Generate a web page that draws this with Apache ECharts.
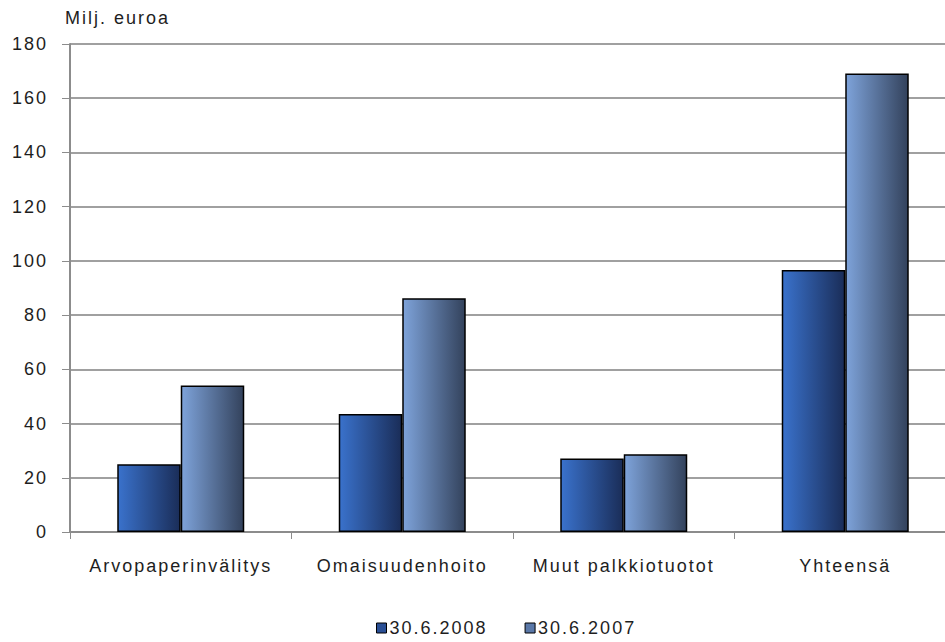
<!DOCTYPE html>
<html>
<head>
<meta charset="utf-8">
<script src="https://cdn.jsdelivr.net/npm/echarts@6/dist/echarts.min.js"></script>
<style>
  html, body { margin: 0; padding: 0; background: #fff; overflow: hidden; }
  /* plot runs a few pixels past the right edge of the window */
  #chart { width: 956px; height: 642px; }
  #chart text { letter-spacing: 2px; }
</style>
</head>
<body>
<div id="chart"></div>
<script>
// Palkkiotuotot (milj. euroa)
const categories = ['Arvopaperinvälitys', 'Omaisuudenhoito', 'Muut palkkiotuotot', 'Yhteensä'];
const seriesNames = ['30.6.2008', '30.6.2007'];
const values2008 = [25, 43.5, 27.1, 96.6];
const values2007 = [54, 86.2, 28.7, 169.1];
const yTicks = { min: 0, max: 180, interval: 20 };

const font = 'Arial, "Liberation Sans", sans-serif';
const textColor = '#1e1e1e';

function grad(from, to) {
  return new echarts.graphic.LinearGradient(0, 0, 1, 0, [
    { offset: 0, color: from },
    { offset: 1, color: to }
  ]);
}

const chart = echarts.init(document.getElementById('chart'), null, { renderer: 'svg' });
chart.setOption({
  animation: false,
  backgroundColor: '#fff',
  grid: { left: 70, right: 0, top: 44, bottom: 110 },
  graphic: [{
    type: 'text', left: 65, top: 9,
    style: { text: 'Milj. euroa', font: '18px ' + font, fill: textColor }
  }],
  legend: {
    top: 614, left: 371, itemGap: 55,
    itemWidth: 10, itemHeight: 10, icon: 'rect',
    textStyle: { fontFamily: font, fontSize: 18, color: textColor, padding: [0, 0, 0, -2] },
    data: [
      { name: seriesNames[0], itemStyle: { color: '#2a4f95', borderColor: '#000', borderWidth: 1 } },
      { name: seriesNames[1], itemStyle: { color: '#5a78a8', borderColor: '#000', borderWidth: 1 } }
    ]
  },
  xAxis: {
    type: 'category',
    data: categories,
    axisLine: { lineStyle: { color: '#8c8c8c', width: 2 } },
    axisTick: { show: true, length: 7, lineStyle: { color: '#8c8c8c', width: 1 } },
    axisLabel: { fontFamily: font, fontSize: 18, color: textColor, margin: 25 }
  },
  yAxis: {
    type: 'value',
    min: yTicks.min, max: yTicks.max, interval: yTicks.interval,
    axisLine: { show: true, lineStyle: { color: '#8c8c8c', width: 2 } },
    axisTick: { show: true, length: 8, lineStyle: { color: '#8c8c8c', width: 1 } },
    splitLine: { lineStyle: { color: '#a0a0a0', width: 2 } },
    axisLabel: { fontFamily: font, fontSize: 18, color: textColor, margin: 22 }
  },
  series: [
    {
      name: seriesNames[0], type: 'bar', data: values2008,
      barWidth: 63.5, barGap: '0%',
      itemStyle: { color: grad('#3a72cc', '#1a2d58'), borderColor: '#000', borderWidth: 1.5 }
    },
    {
      name: seriesNames[1], type: 'bar', data: values2007,
      barWidth: 63.5,
      itemStyle: { color: grad('#7ea3da', '#33425c'), borderColor: '#000', borderWidth: 1.5 }
    }
  ]
});
</script>
</body>
</html>
